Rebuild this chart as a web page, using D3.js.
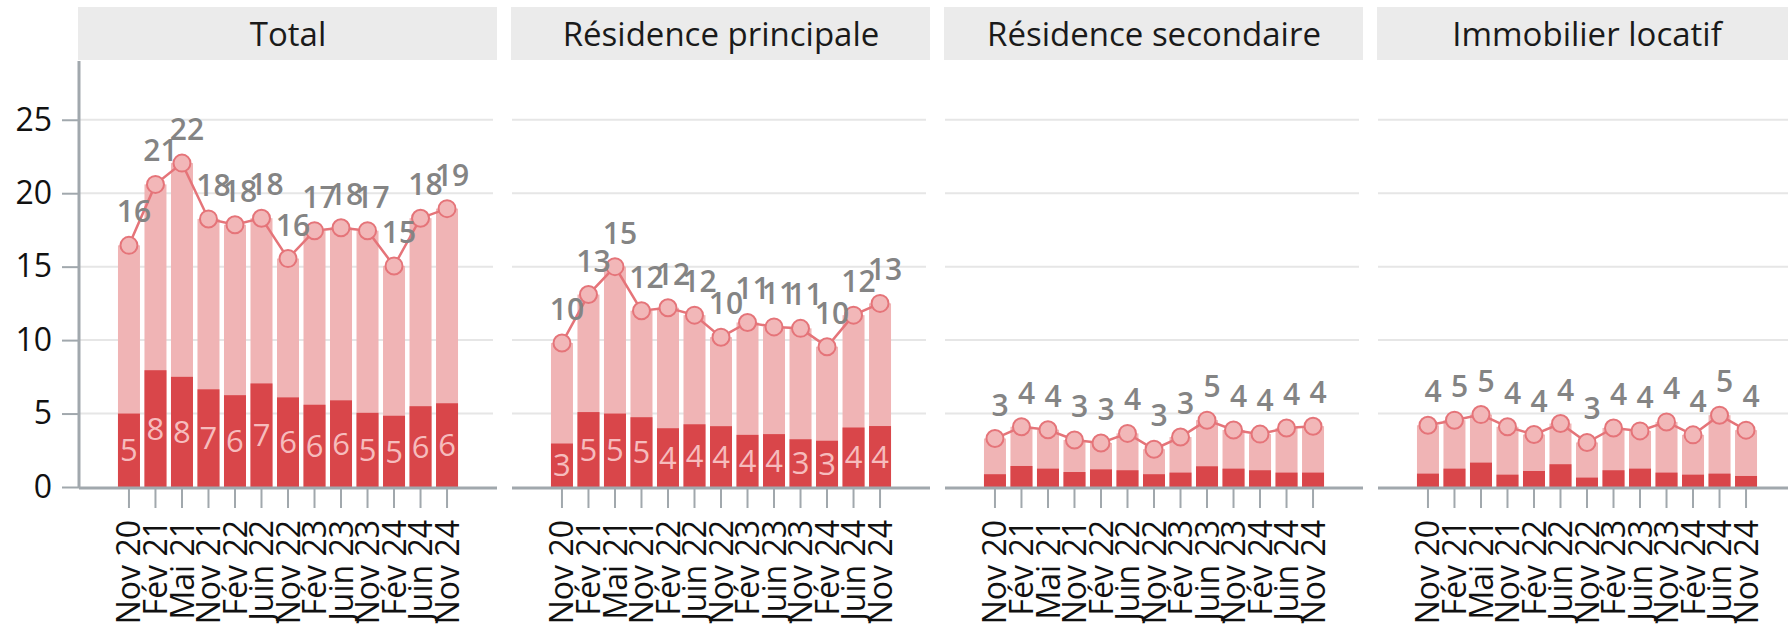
<!DOCTYPE html>
<html>
<head>
<meta charset="utf-8">
<script src="https://cdn.jsdelivr.net/npm/d3@7"></script>
<style>
  body { margin: 0; background: #fff; }
  svg { display: block; font-family: "Open Sans", "Noto Sans", sans-serif; }
</style>
</head>
<body>
<div id="chart"></div>
<script>
// periods on the x axis (same for every panel)
const periods = ["Nov 20", "Fév 21", "Mai 21", "Nov 21", "Fév 22", "Juin 22", "Nov 22",
                 "Fév 23", "Juin 23", "Nov 23", "Fév 24", "Juin 24", "Nov 24"];
const panelNames = ["Total", "Résidence principale", "Résidence secondaire", "Immobilier locatif"];
const yTicks = [0, 5, 10, 15, 20, 25];

// full bar height (= line value) and the darker lower part, per panel
const totalAll  = [16.45, 20.6, 22.05, 18.25, 17.85, 18.3, 15.55, 17.45, 17.65, 17.45, 15.05, 18.3, 18.95];
const totalDark = [5.0, 7.95, 7.5, 6.65, 6.25, 7.05, 6.1, 5.6, 5.9, 5.05, 4.85, 5.5, 5.7];

const princAll  = [9.8, 13.1, 15.0, 12.0, 12.2, 11.7, 10.2, 11.2, 10.9, 10.8, 9.55, 11.7, 12.5];
const princDark = [2.96, 5.1, 5.0, 4.75, 4.0, 4.27, 4.14, 3.55, 3.6, 3.25, 3.15, 4.05, 4.15];

const secAll  = [3.3, 4.1, 3.9, 3.2, 3.0, 3.65, 2.57, 3.4, 4.55, 3.88, 3.6, 4.02, 4.14];
const secDark = [0.87, 1.43, 1.25, 1.02, 1.2, 1.14, 0.87, 0.98, 1.41, 1.25, 1.14, 0.98, 0.98];

const locAll  = [4.2, 4.55, 4.93, 4.1, 3.57, 4.32, 3.03, 4.02, 3.82, 4.43, 3.55, 4.89, 3.87];
const locDark = [0.91, 1.25, 1.66, 0.84, 1.09, 1.55, 0.64, 1.14, 1.25, 0.98, 0.84, 0.91, 0.75];

const allSeries  = [totalAll, princAll, secAll, locAll];
const darkSeries = [totalDark, princDark, secDark, locDark];

const W = 1788, H = 628;
const panelLeft0 = 79, panelW = 418, panelGap = 15;
const stripTop = 7, stripH = 53;
const plotTop = 61, plotBottom = 487;

const colDark = "#d9464a", colLight = "#f0b4b5", colLine = "#e57479";
const colAxis = "#a1a8ad", colGrid = "#e6e6e6", colLabel = "#848484";

const svg = d3.select("#chart").append("svg")
    .attr("width", W)
    .attr("height", H);

const y = d3.scaleLinear().domain([0, 29]).range([plotBottom, plotTop]);
const x = d3.scaleBand().domain(periods).range([0, panelW])
    .paddingInner(0.17).paddingOuter(1.47);
const cx = d => x(d) + x.bandwidth() / 2;

panelNames.forEach(function(name, i) {
    const g = svg.append("g")
        .attr("transform", "translate(" + (panelLeft0 + i * (panelW + panelGap)) + ",0)");

    const data = periods.map(function(p, j) {
        return { p: p, all: allSeries[i][j], dark: darkSeries[i][j] };
    });

    // strip header
    g.append("rect")
        .attr("x", -1).attr("y", stripTop)
        .attr("width", panelW + 1).attr("height", stripH)
        .attr("fill", "#ebebeb");
    g.append("text")
        .attr("x", panelW / 2).attr("y", 46)
        .attr("text-anchor", "middle")
        .style("font-size", "33px")
        .attr("fill", "#1a1a1a")
        .text(name);

    // gridlines
    g.selectAll(".grid")
        .data(yTicks.slice(1))
        .enter().append("line")
        .attr("x1", 0).attr("x2", panelW - 4)
        .attr("y1", d => y(d)).attr("y2", d => y(d))
        .attr("stroke", colGrid).attr("stroke-width", 2);

    // light (full) bars, then dark lower part
    g.selectAll(".barAll")
        .data(data)
        .enter().append("rect")
        .attr("x", d => x(d.p)).attr("width", x.bandwidth())
        .attr("y", d => y(d.all)).attr("height", d => y(0) - y(d.all))
        .attr("fill", colLight);
    g.selectAll(".barDark")
        .data(data)
        .enter().append("rect")
        .attr("x", d => x(d.p)).attr("width", x.bandwidth())
        .attr("y", d => y(d.dark)).attr("height", d => y(0) - y(d.dark))
        .attr("fill", colDark);

    // labels inside dark part (only when tall enough)
    g.selectAll(".darkLab")
        .data(data.filter(d => d.dark >= 2))
        .enter().append("text")
        .attr("x", d => cx(d.p))
        .attr("y", d => (y(d.dark) + y(0)) / 2)
        .attr("dy", "0.36em")
        .attr("text-anchor", "middle")
        .style("font-size", "31px")
        .attr("fill", "#f6bcbd")
        .text(d => Math.round(d.dark));

    // line with points
    const line = d3.line().x(d => cx(d.p)).y(d => y(d.all));
    g.append("path")
        .datum(data)
        .attr("d", line)
        .attr("fill", "none")
        .attr("stroke", colLine)
        .attr("stroke-width", 2.5);
    g.selectAll(".pt")
        .data(data)
        .enter().append("circle")
        .attr("cx", d => cx(d.p)).attr("cy", d => y(d.all))
        .attr("r", 8.5)
        .attr("fill", "#f2b7b8")
        .attr("stroke", colLine)
        .attr("stroke-width", 2);

    // value labels above the points
    g.selectAll(".valLab")
        .data(data)
        .enter().append("text")
        .attr("x", d => cx(d.p) + 5)
        .attr("y", d => y(d.all) - 23)
        .attr("text-anchor", "middle")
        .style("font-size", "30px")
        .style("font-weight", 600)
        .attr("fill", colLabel)
        .text(d => Math.round(d.all));

    // x axis
    const xAxis = g.append("g")
        .attr("transform", "translate(0," + (plotBottom + 1) + ")")
        .call(d3.axisBottom(x).tickSize(20).tickPadding(12).tickSizeOuter(0));
    xAxis.select(".domain").attr("stroke", colAxis).attr("stroke-width", 3)
        .attr("d", "M0,0H" + panelW);
    xAxis.selectAll(".tick line").attr("stroke", colAxis).attr("stroke-width", 2);
    xAxis.selectAll(".tick text")
        .attr("transform", "rotate(-90)")
        .attr("x", -32).attr("y", 0)
        .attr("dy", "0.36em")
        .attr("text-anchor", "end")
        .style("font-size", "32px")
        .style("font-family", "'Open Sans', 'Noto Sans', sans-serif")
        .attr("fill", "#111");

    // y axis only on first panel
    if (i === 0) {
        const yAxis = g.append("g")
            .call(d3.axisLeft(y).tickValues(yTicks).tickSize(17).tickPadding(10).tickSizeOuter(0));
        yAxis.select(".domain").attr("stroke", colAxis).attr("stroke-width", 3)
            .attr("d", "M0," + plotTop + "V" + (plotBottom + 1));
        yAxis.selectAll(".tick line").attr("stroke", colAxis).attr("stroke-width", 2);
        yAxis.selectAll(".tick text")
            .style("font-size", "32px")
            .style("font-family", "'Open Sans', 'Noto Sans', sans-serif")
            .attr("fill", "#111");
    }
});
</script>
</body>
</html>
